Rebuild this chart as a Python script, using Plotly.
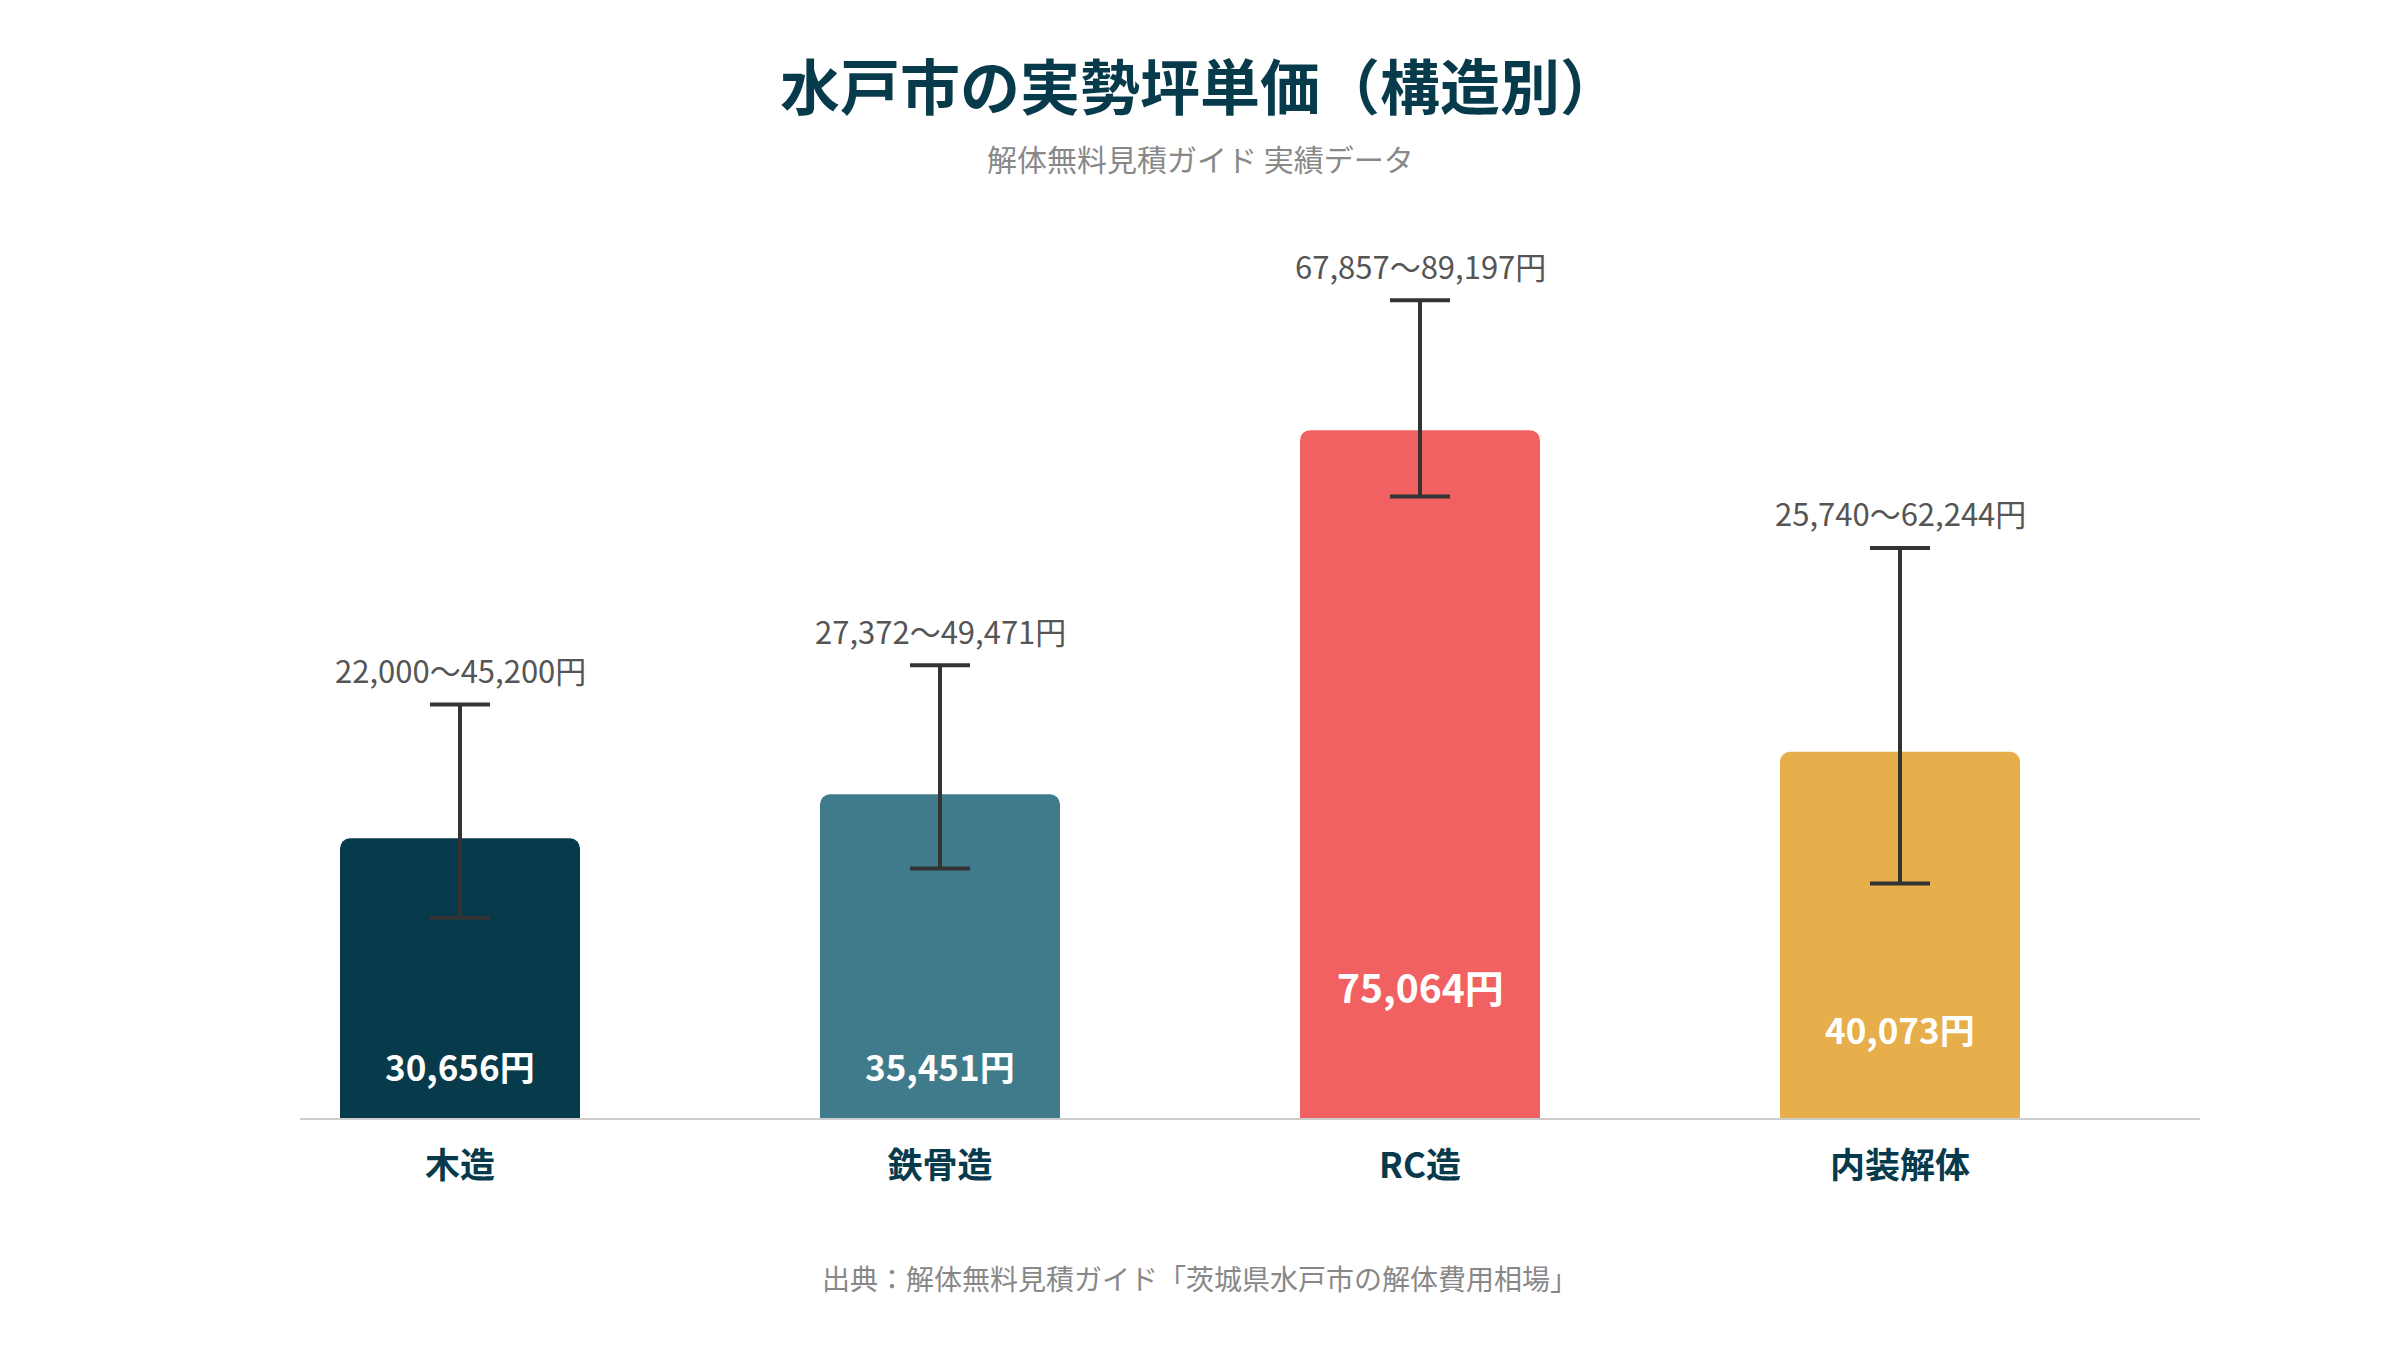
import plotly.graph_objects as go

categories = ["木造", "鉄骨造", "RC造", "内装解体"]
avg_price = [30656, 35451, 75064, 40073]
min_price = [22000, 27372, 67857, 25740]
max_price = [45200, 49471, 89197, 62244]
bar_colors = ["#073B4C", "#407B8B", "#F26161", "#E6AF4B"]

title_text = "水戸市の実勢坪単価（構造別）"
subtitle_text = "解体無料見積ガイド 実績データ"
source_text = "出典：解体無料見積ガイド「茨城県水戸市の解体費用相場」"

# vertical position (data units) and font size of the value label inside each bar
value_label_pos = [5900, 5900, 14600, 10000]
value_label_size = [35, 35, 39, 35]

FONT = "Noto Sans CJK JP"
DARK = "#073B4C"
W, H = 2400, 1350
OFF = 8  # page body margin

fig = go.Figure()
fig.add_trace(go.Bar(
    x=categories,
    y=avg_price,
    marker=dict(color=bar_colors, cornerradius=10, line=dict(width=0)),
    error_y=dict(
        type="data",
        symmetric=False,
        array=[mx - v for mx, v in zip(max_price, avg_price)],
        arrayminus=[v - mn for mn, v in zip(min_price, avg_price)],
        color="#333333",
        thickness=4,
        width=30,
    ),
    hoverinfo="skip",
    showlegend=False,
))

annotations = []
for cat, v, mn, mx, ly, fs in zip(categories, avg_price, min_price, max_price,
                                   value_label_pos, value_label_size):
    annotations.append(dict(
        x=cat, y=mx, xref="x", yref="y",
        text=f"{mn:,}～{mx:,}円", showarrow=False,
        yshift=35, yanchor="middle",
        font=dict(family=FONT, size=31, color="#555555"),
    ))
    annotations.append(dict(
        x=cat, y=ly, xref="x", yref="y",
        text=f"<b>{v:,}円</b>", showarrow=False,
        yanchor="middle",
        font=dict(family=FONT, size=fs, color="#FFFFFF"),
    ))

annotations += [
    dict(x=(1200 - OFF) / W, y=1 - 75 / H, xref="paper", yref="paper",
         text=f"<b>{title_text}</b>", showarrow=False, yanchor="middle",
         font=dict(family=FONT, size=60, color=DARK)),
    dict(x=(1200 - OFF) / W, y=1 - 150 / H, xref="paper", yref="paper",
         text=subtitle_text, showarrow=False, yanchor="middle",
         font=dict(family=FONT, size=30, color="#888888")),
    dict(x=(1200 - OFF) / W, y=1 - 1270 / H, xref="paper", yref="paper",
         text=source_text, showarrow=False, yanchor="middle",
         font=dict(family=FONT, size=28, color="#888888")),
]

zero_px = 1120 - OFF
top_px = zero_px - 919

fig.update_layout(
    width=W, height=H,
    autosize=False,
    paper_bgcolor="#FFFFFF",
    plot_bgcolor="#FFFFFF",
    margin=dict(l=0, r=0, t=0, b=0),
    bargap=0.5,
    annotations=annotations,
    shapes=[dict(type="line", xref="paper", yref="y",
                 x0=(300 - OFF) / W, x1=(2200 - OFF) / W, y0=0, y1=0,
                 line=dict(color="#CCCCCC", width=4), layer="above")],
    xaxis=dict(
        domain=[(220 - OFF) / W, (2140 - OFF) / W],
        showgrid=False, zeroline=False, showline=False,
        ticks="", ticklabelstandoff=22,
        tickfont=dict(family=FONT, size=35, color=DARK, weight="bold"),
        fixedrange=True,
    ),
    yaxis=dict(
        domain=[(H - zero_px) / H, (H - top_px) / H],
        range=[0, 100000],
        showgrid=False, zeroline=False, showline=False,
        showticklabels=False, ticks="",
        fixedrange=True,
    ),
    font=dict(family=FONT),
)

fig.write_html("out.html", config={"displayModeBar": False})
